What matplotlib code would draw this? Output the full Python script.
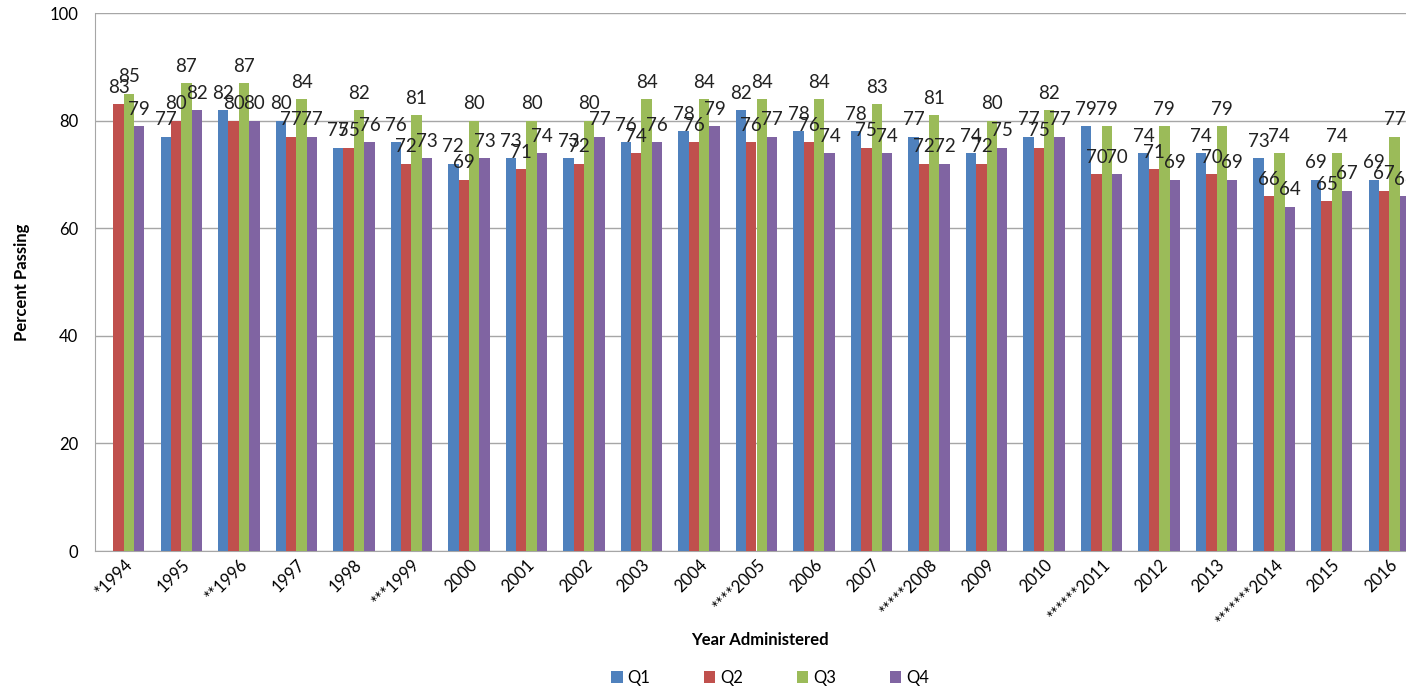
import numpy as np
import matplotlib.pyplot as plt

years = ["*1994", "1995", "**1996", "1997", "1998", "***1999", "2000", "2001",
         "2002", "2003", "2004", "****2005", "2006", "2007", "*****2008", "2009",
         "2010", "******2011", "2012", "2013", "*******2014", "2015", "2016"]

q1 = [np.nan, 77, 82, 80, 75, 76, 72, 73, 73, 76, 78, 82, 78, 78, 77, 74, 77, 79, 74, 74, 73, 69, 69]
q2 = [83, 80, 80, 77, 75, 72, 69, 71, 72, 74, 76, 76, 76, 75, 72, 72, 75, 70, 71, 70, 66, 65, 67]
q3 = [85, 87, 87, 84, 82, 81, 80, 80, 80, 84, 84, 84, 84, 83, 81, 80, 82, 79, 79, 79, 74, 74, 77]
q4 = [79, 82, 80, 77, 76, 73, 73, 74, 77, 76, 79, 77, 74, 74, 72, 75, 77, 70, 69, 69, 64, 67, 66]

series = [("Q1", q1, "#4F81BD"), ("Q2", q2, "#C0504D"),
          ("Q3", q3, "#9BBB59"), ("Q4", q4, "#8064A2")]

plt.rcParams['font.family'] = ['Lato', 'DejaVu Sans']

fig = plt.figure(figsize=(14.06, 6.87), dpi=100)
ax = fig.add_axes([95/1406, 1-551/687, 1323/1406, 538/687])

x = np.arange(len(years))
w = 0.18
for i, (name, vals, col) in enumerate(series):
    bars = ax.bar(x + (i - 1.5) * w, vals, w, color=col, label=name, zorder=3)
    labels = ["" if np.isnan(v) else "%d" % v for v in vals]
    ax.bar_label(bars, labels=labels, padding=6, fontsize=13.5, color="#222222", zorder=4)

ax.set_xlim(-0.5, len(years) - 0.5)
ax.set_ylim(0, 100)
ax.set_yticks([0, 20, 40, 60, 80, 100])
ax.yaxis.grid(True, color="#A6A6A6", linewidth=1, zorder=0)
ax.tick_params(axis="y", length=0, labelsize=12, pad=12)
ax.tick_params(axis="x", length=0, pad=4)
ax.set_xticks(x)
ax.set_xticklabels(years, rotation=45, ha="right", rotation_mode="anchor", fontsize=12)
for s in ["top", "right"]:
    ax.spines[s].set_visible(False)
for s in ["left", "bottom"]:
    ax.spines[s].set_color("#A6A6A6")

ax.set_xlabel("Year Administered", fontsize=12, fontweight="bold")
ax.set_ylabel("Percent Passing", fontsize=12, fontweight="bold", labelpad=14)
ax.xaxis.set_label_coords((760 - 95) / 1323, -(632 - 551) / 538)

fig.legend(loc="center", bbox_to_anchor=(770/1406, 1-678/687), ncol=4, frameon=False,
           fontsize=12, handlelength=0.7, handleheight=0.7, columnspacing=3.2,
           handletextpad=0.3)

fig.savefig("out.png", dpi=100)
